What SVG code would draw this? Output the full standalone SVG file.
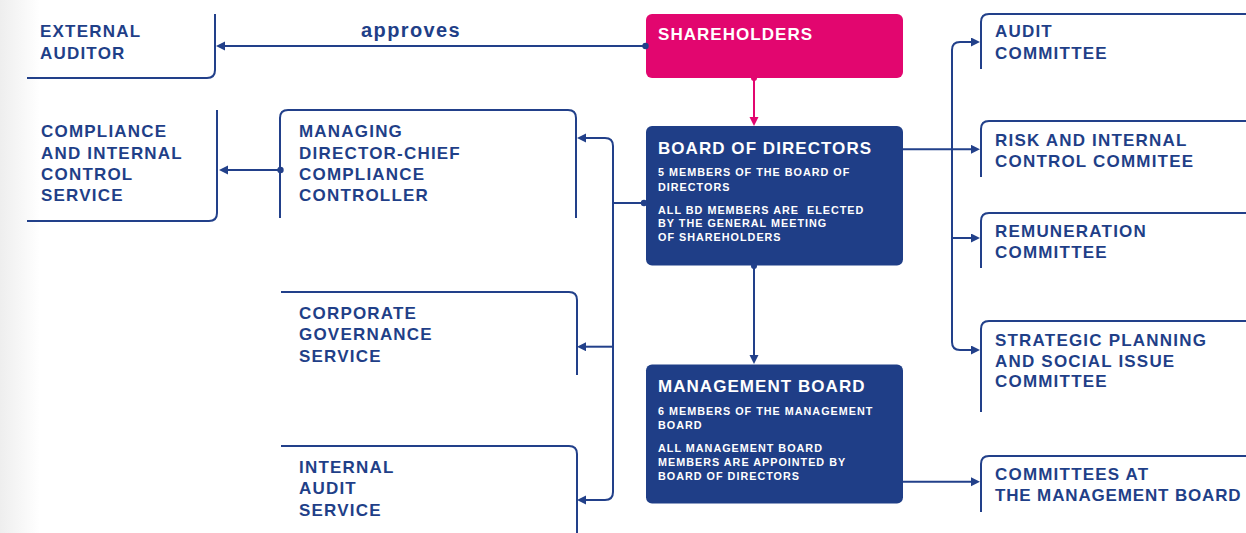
<svg xmlns="http://www.w3.org/2000/svg" width="1246" height="533" viewBox="0 0 1246 533">
  <defs>
    <linearGradient id="edge" x1="0" y1="0" x2="1" y2="0">
      <stop offset="0" stop-color="#eeeeee"/>
      <stop offset="1" stop-color="#ffffff"/>
    </linearGradient>
    <marker id="arrB" markerUnits="userSpaceOnUse" markerWidth="10" markerHeight="10" refX="5" refY="4.5" orient="auto">
      <path d="M0,0 L9,4.5 L0,9 z" fill="#22408A"/>
    </marker>
    <marker id="arrP" markerUnits="userSpaceOnUse" markerWidth="10" markerHeight="10" refX="5" refY="4.5" orient="auto">
      <path d="M0,0 L9,4.5 L0,9 z" fill="#E2066F"/>
    </marker>
  </defs>
  <style>
    .lbl { font-family: "Liberation Sans", Arial, sans-serif; font-weight: bold; font-size: 17px; letter-spacing: 1.2px; fill: #1F3F88; }
    .ttl { font-family: "Liberation Sans", Arial, sans-serif; font-weight: bold; font-size: 17px; letter-spacing: 1.05px; fill: #ffffff; }
    .sub { font-family: "Liberation Sans", Arial, sans-serif; font-weight: bold; font-size: 10.8px; letter-spacing: 1px; fill: #ffffff; white-space: pre; }
    .appr { font-family: "Liberation Sans", Arial, sans-serif; font-weight: bold; font-size: 20px; letter-spacing: 1.4px; fill: #1F3F88; }
    .frame { fill: none; stroke: #22408A; stroke-width: 2; }
    .conn { fill: none; stroke: #22408A; stroke-width: 2; }
    .connP { fill: none; stroke: #E2066F; stroke-width: 2; }
    .dot { fill: #22408A; }
    .dotP { fill: #E2066F; }
    .dark { fill: #1F3E87; }
  </style>
  <rect x="0" y="0" width="1246" height="533" fill="#ffffff"/>
  <rect x="0" y="0" width="40" height="533" fill="url(#edge)"/>

  <g id="external-auditor">
    <path class="frame" d="M215,14 V70 Q215,78 207,78 H27"/>
    <text class="lbl" x="40" y="37">EXTERNAL</text>
    <text class="lbl" x="40" y="59">AUDITOR</text>
  </g>

  <g id="shareholders">
    <rect x="646" y="14" width="257" height="64" rx="6" fill="#E2066F"/>
    <text class="ttl" x="658" y="40">SHAREHOLDERS</text>
  </g>

  <g id="board-of-directors">
    <rect class="dark" x="646" y="126" width="257" height="139.5" rx="6"/>
    <text class="ttl" x="658" y="153.5">BOARD OF DIRECTORS</text>
    <text class="sub" x="658" y="176">5 MEMBERS OF THE BOARD OF</text>
    <text class="sub" x="658" y="190.5">DIRECTORS</text>
    <text class="sub" x="658" y="213.5" xml:space="preserve">ALL BD MEMBERS ARE  ELECTED</text>
    <text class="sub" x="658" y="227.3">BY THE GENERAL MEETING</text>
    <text class="sub" x="658" y="241">OF SHAREHOLDERS</text>
  </g>

  <g id="management-board">
    <rect class="dark" x="646" y="364.5" width="257" height="139" rx="6"/>
    <text class="ttl" x="658" y="391.7">MANAGEMENT BOARD</text>
    <text class="sub" x="658" y="415">6 MEMBERS OF THE MANAGEMENT</text>
    <text class="sub" x="658" y="429">BOARD</text>
    <text class="sub" x="658" y="451.7">ALL MANAGEMENT BOARD</text>
    <text class="sub" x="658" y="466">MEMBERS ARE APPOINTED BY</text>
    <text class="sub" x="658" y="480">BOARD OF DIRECTORS</text>
  </g>

  <g id="compliance-internal-control">
    <path class="frame" d="M217,110 V213 Q217,221 209,221 H27"/>
    <text class="lbl" x="41" y="137.3">COMPLIANCE</text>
    <text class="lbl" x="41" y="158.5">AND INTERNAL</text>
    <text class="lbl" x="41" y="179.5">CONTROL</text>
    <text class="lbl" x="41" y="200.7">SERVICE</text>
  </g>

  <g id="managing-director">
    <path class="frame" d="M280,218 V118 Q280,110 288,110 H568 Q576,110 576,118 V218"/>
    <text class="lbl" x="299" y="137.3">MANAGING</text>
    <text class="lbl" x="299" y="159.3">DIRECTOR-CHIEF</text>
    <text class="lbl" x="299" y="180">COMPLIANCE</text>
    <text class="lbl" x="299" y="200.7">CONTROLLER</text>
  </g>

  <g id="corporate-governance">
    <path class="frame" d="M281,292 H569 Q577,292 577,300 V375"/>
    <text class="lbl" x="299" y="319">CORPORATE</text>
    <text class="lbl" x="299" y="340">GOVERNANCE</text>
    <text class="lbl" x="299" y="361.7">SERVICE</text>
  </g>

  <g id="internal-audit">
    <path class="frame" d="M281,446 H569 Q577,446 577,454 V533"/>
    <text class="lbl" x="299" y="472.7">INTERNAL</text>
    <text class="lbl" x="299" y="494.3">AUDIT</text>
    <text class="lbl" x="299" y="515.7">SERVICE</text>
  </g>

  <g id="audit-committee">
    <path class="frame" d="M981,69 V22 Q981,14 989,14 H1246"/>
    <text class="lbl" x="995" y="36.7">AUDIT</text>
    <text class="lbl" x="995" y="59">COMMITTEE</text>
  </g>

  <g id="risk-committee">
    <path class="frame" d="M981,177 V129 Q981,121 989,121 H1246"/>
    <text class="lbl" x="995" y="145.7">RISK AND INTERNAL</text>
    <text class="lbl" x="995" y="166.5">CONTROL COMMITEE</text>
  </g>

  <g id="remuneration-committee">
    <path class="frame" d="M981,268 V221 Q981,213 989,213 H1246"/>
    <text class="lbl" x="995" y="236.7">REMUNERATION</text>
    <text class="lbl" x="995" y="258.3">COMMITTEE</text>
  </g>

  <g id="strategic-committee">
    <path class="frame" d="M981,412 V329 Q981,321 989,321 H1246"/>
    <text class="lbl" x="995" y="345.7">STRATEGIC PLANNING</text>
    <text class="lbl" x="995" y="366.5">AND SOCIAL ISSUE</text>
    <text class="lbl" x="995" y="387">COMMITTEE</text>
  </g>

  <g id="mb-committees">
    <path class="frame" d="M981,512 V464 Q981,456 989,456 H1246"/>
    <text class="lbl" x="995" y="480">COMMITTEES AT</text>
    <text class="lbl" x="995" y="501" style="letter-spacing:0.85px">THE MANAGEMENT BOARD</text>
  </g>

  <g id="connectors">
    <!-- approves -->
    <path class="conn" d="M645,46 H220" marker-end="url(#arrB)"/>
    <circle class="dot" cx="645.5" cy="46" r="3.2"/>
    <text class="appr" x="361" y="37">approves</text>
    <!-- shareholders to board -->
    <path class="connP" d="M754,78 V122" marker-end="url(#arrP)"/>
    <circle class="dotP" cx="754" cy="78" r="3"/>
    <!-- board to management -->
    <path class="conn" d="M754,266 V360" marker-end="url(#arrB)"/>
    <circle class="dot" cx="754" cy="266" r="3"/>
    <!-- managing director to compliance -->
    <path class="conn" d="M280,170 H223" marker-end="url(#arrB)"/>
    <circle class="dot" cx="280.5" cy="170" r="3.2"/>
    <!-- left trunk -->
    <path class="conn" d="M645,203 H613"/>
    <circle class="dot" cx="644" cy="203" r="3.2"/>
    <path class="conn" d="M613,180 V146 Q613,138 605,138 H581" marker-end="url(#arrB)"/>
    <path class="conn" d="M613,180 V492 Q613,500 605,500 H581" marker-end="url(#arrB)"/>
    <path class="conn" d="M613,346.7 H581" marker-end="url(#arrB)"/>
    <!-- right trunk -->
    <path class="conn" d="M903,149.3 H976" marker-end="url(#arrB)"/>
    <path class="conn" d="M952,150 V50 Q952,42 960,42 H976" marker-end="url(#arrB)"/>
    <path class="conn" d="M952,150 V342 Q952,350 960,350 H976" marker-end="url(#arrB)"/>
    <path class="conn" d="M952,238 H976" marker-end="url(#arrB)"/>
    <!-- management to committees -->
    <path class="conn" d="M903,481.7 H976" marker-end="url(#arrB)"/>
  </g>
</svg>
